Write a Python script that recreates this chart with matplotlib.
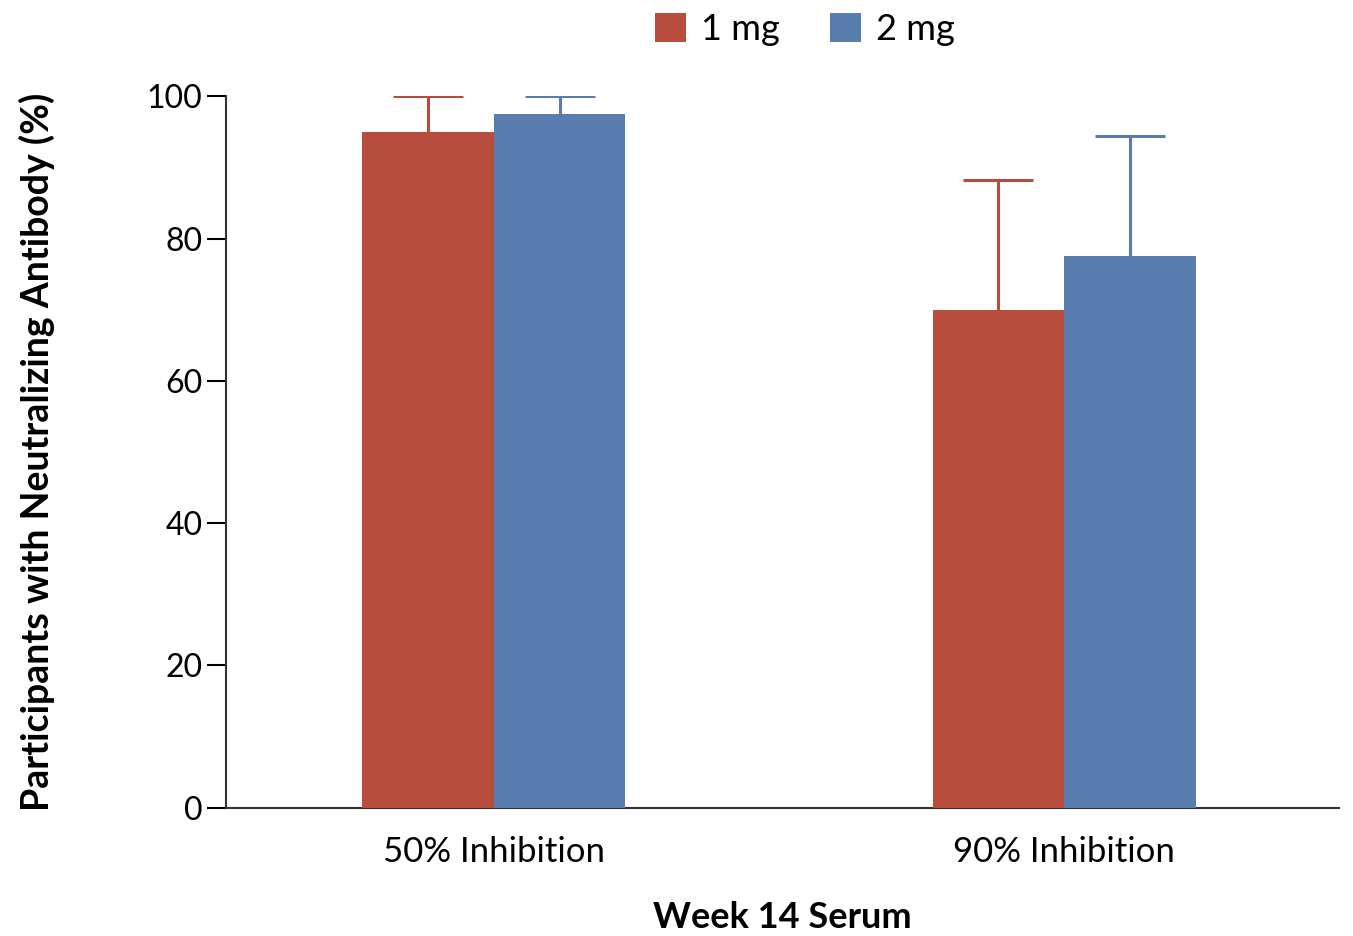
import numpy as np
import matplotlib.pyplot as plt

plt.rcParams['font.family'] = ['Lato', 'DejaVu Sans']

groups = ['50% Inhibition', '90% Inhibition']
doses = ['1 mg', '2 mg']
values_1mg = [95.0, 70.0]
values_2mg = [97.5, 77.5]
upper_1mg = [100.0, 88.2]
upper_2mg = [100.1, 94.4]
colors = ['#B84D3E', '#5A7DB0']

fig = plt.figure(figsize=(13.53, 9.36), dpi=100)
ax = fig.add_axes([0.167, 0.137, 0.823, 0.760])

x = np.arange(len(groups))
w = 0.231

for i, (vals, ups, c, lab) in enumerate(zip([values_1mg, values_2mg], [upper_1mg, upper_2mg], colors, doses)):
    xs = x + (i - 0.5) * w
    ax.bar(xs, vals, width=w, color=c, label=lab, zorder=3)
    err = np.array(ups) - np.array(vals)
    _, caps, _ = ax.errorbar(xs, vals, yerr=[np.zeros_like(err), err], fmt='none', ecolor=c,
                             elinewidth=2.2, capsize=25, capthick=2.2, zorder=2)
    caps[0].set_visible(False)  # hide lower cap sitting on the bar top

ax.set_xlim(-0.469, 1.482)
ax.set_ylim(0, 100)
ax.set_yticks([0, 20, 40, 60, 80, 100])
ax.set_xticks(x)
ax.set_xticklabels(groups, fontsize=25)
ax.tick_params(axis='x', length=0, pad=20)
ax.tick_params(axis='y', length=14, width=1.5, labelsize=23, pad=3, direction='out')
for s in ['top', 'right']:
    ax.spines[s].set_visible(False)
for s in ['left', 'bottom']:
    ax.spines[s].set_linewidth(1.5)
    ax.spines[s].set_color('#333333')

ax.set_ylabel('Participants with Neutralizing Antibody (%)', fontsize=27, fontweight='bold', labelpad=66)
ax.set_xlabel('Week 14 Serum', fontsize=26, fontweight='bold', labelpad=24)

ax.legend(loc='lower center', bbox_to_anchor=(0.52, 1.025), ncol=2, frameon=False,
          fontsize=26, handlelength=0.85, handleheight=0.85, columnspacing=1.4, handletextpad=0.42)

fig.savefig('out.png', dpi=100)
